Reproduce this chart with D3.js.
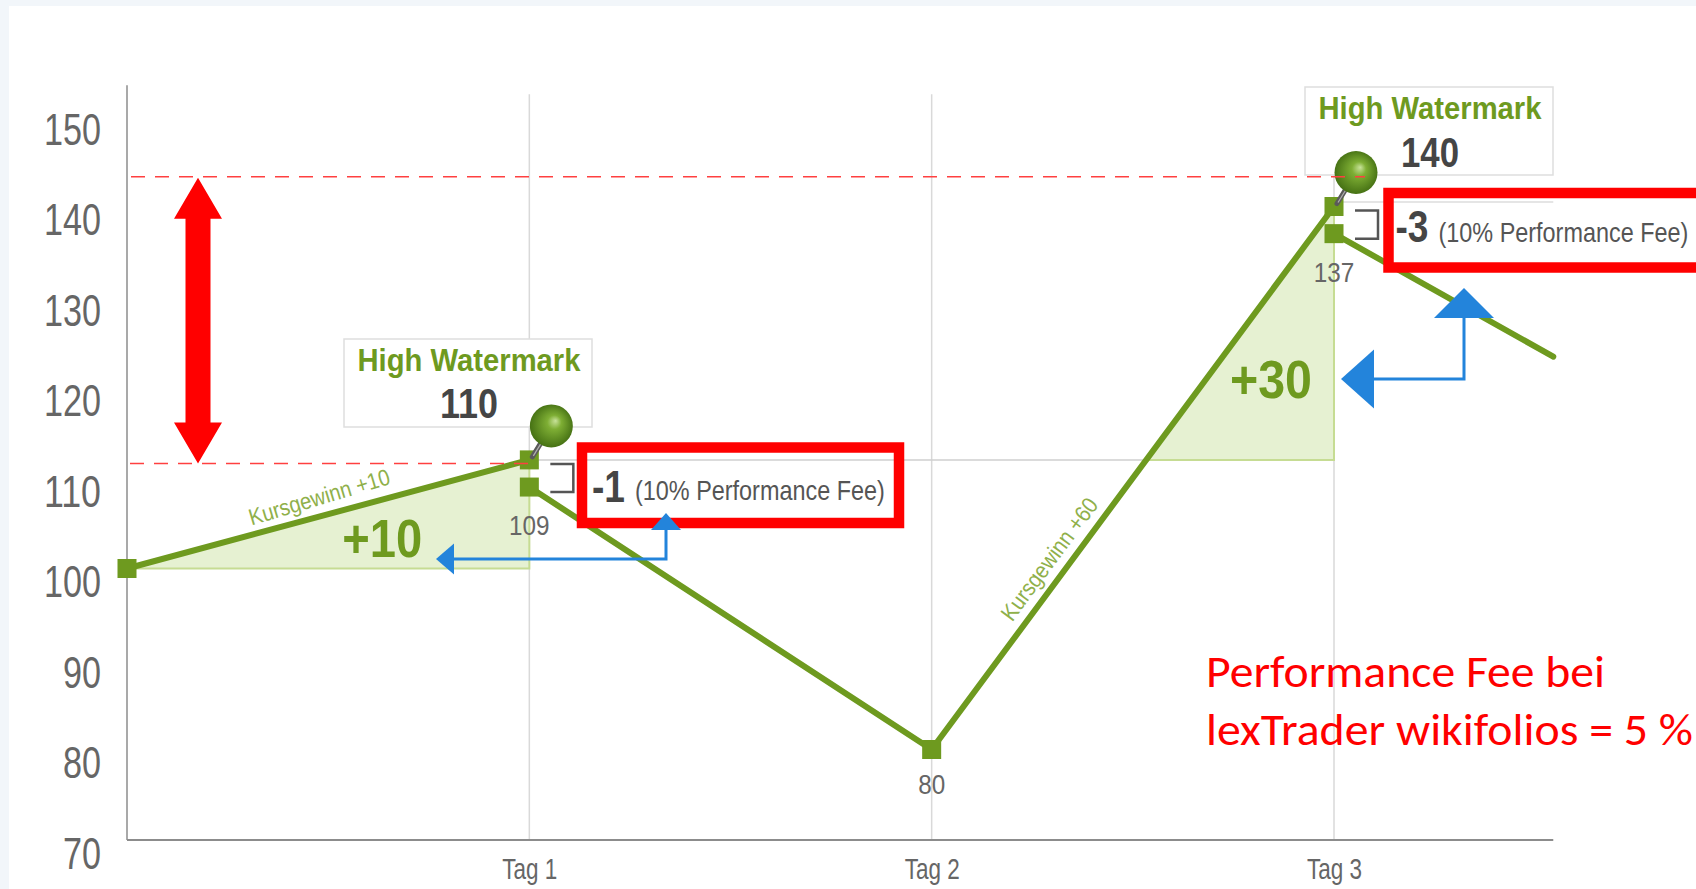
<!DOCTYPE html>
<html>
<head>
<meta charset="utf-8">
<script src="https://cdn.jsdelivr.net/npm/d3@7"></script>
<style>
  html, body { margin: 0; padding: 0; background: #f2f6fa; overflow: hidden; }
  svg { display: block; }
</style>
</head>
<body>
<svg id="chart" width="1696" height="889"></svg>
<script>
// ---- data ----
const yTicks     = [70, 80, 90, 100, 110, 120, 130, 140, 150];
const dayTicks   = [1, 2, 3];
const dayLabels  = ["Tag 1", "Tag 2", "Tag 3"];

// course of the depot value, in drawing order
const pathDays   = [0, 1, 1, 2, 3, 3, 3.545];
const pathValues = [100, 112, 109, 80, 140, 137, 123.4];
const segments   = [[0, 1], [2, 3, 4], [5, 6]];   // fee drop breaks the line

const valueLabelIdx = [2, 3, 5];
const valueLabels   = ["109", "80", "137"];

const peakIdx    = [1, 4];              // high watermarks
const hwmLabels  = ["110", "140"];
const feeIdx     = [2, 5];              // value after fee
const feeLabels  = ["-1", "-3"];
const gainLabels = ["+10", "+30"];
const gainNotes  = ["Kursgewinn +10", "Kursgewinn +60"];
const noteSeg    = [[0, 1], [3, 4]];
const noteT      = [0.49, 0.33];

const hwmLevels  = [112, 140.5];        // grey reference lines
const dashLevels = [143.3, 111.6];      // red dashed lines

const noteLines  = ["Performance Fee bei", "lexTrader wikifolios = 5 %"];

// ---- setup ----
const W = 1696, H = 889;
const FONT = "'Liberation Sans', Arial, Helvetica, sans-serif";
const GREEN = "#6e9a1f", RED = "#ff0000", BLUE = "#2384db";
// the original font is a condensed one: squeeze glyphs to the measured widths
const squeeze = (sel, len) => sel.attr("textLength", len).attr("lengthAdjust", "spacingAndGlyphs");

const svg = d3.select("#chart");
const x = d3.scaleLinear().domain([0, 3]).range([127, 1334]);
const y = d3.scaleLinear().domain([70, 150]).range([840, 116]);
const px = i => x(pathDays[i]), py = i => y(pathValues[i]);

const defs = svg.append("defs");
const ballGrad = defs.append("radialGradient").attr("id", "ball")
  .attr("cx", "50%").attr("cy", "50%").attr("r", "55%")
  .attr("fx", "60%").attr("fy", "38%");
ballGrad.append("stop").attr("offset", "0%").attr("stop-color", "#c8e29a");
ballGrad.append("stop").attr("offset", "30%").attr("stop-color", "#7eae34");
ballGrad.append("stop").attr("offset", "100%").attr("stop-color", "#3f6a10");

// white panel
svg.append("rect").attr("x", 9).attr("y", 6).attr("width", W - 9).attr("height", H - 6)
  .attr("fill", "#fff");

// vertical gridlines
svg.append("g").selectAll("line").data(dayTicks).join("line")
  .attr("x1", d => x(d)).attr("x2", d => x(d))
  .attr("y1", y(152.4)).attr("y2", y(70))
  .attr("stroke", "#d9d9d9").attr("stroke-width", 1.5);

// axes lines
svg.append("line").attr("x1", x(0)).attr("x2", x(0)).attr("y1", y(153.4)).attr("y2", y(70))
  .attr("stroke", "#8c8c8c").attr("stroke-width", 1.5);
svg.append("line").attr("x1", x(0)).attr("x2", x(3.545)).attr("y1", y(70)).attr("y2", y(70))
  .attr("stroke", "#8c8c8c").attr("stroke-width", 2);

// y tick labels
const yAxis = svg.append("g").attr("transform", "translate(101,0)")
  .call(d3.axisLeft(y).tickValues(yTicks).tickSize(0).tickPadding(0));
yAxis.select(".domain").remove();
yAxis.selectAll("text").attr("dy", null).attr("y", 28)
  .attr("font-family", FONT).attr("font-size", 44).attr("fill", "#666")
  .attr("textLength", d => String(d).length * 19).attr("lengthAdjust", "spacingAndGlyphs");

// x tick labels
const xAxis = svg.append("g").attr("transform", `translate(0,${y(70)})`)
  .call(d3.axisBottom(x).tickValues(dayTicks).tickFormat((d, i) => dayLabels[i]).tickSize(0).tickPadding(0));
xAxis.select(".domain").remove();
xAxis.selectAll("text").attr("dy", null).attr("y", 39)
  .attr("font-family", FONT).attr("font-size", 29).attr("fill", "#666")
  .attr("textLength", 55).attr("lengthAdjust", "spacingAndGlyphs");

// grey high-watermark levels
svg.append("line").attr("x1", px(1)).attr("x2", px(4)).attr("y1", y(hwmLevels[0])).attr("y2", y(hwmLevels[0]))
  .attr("stroke", "#cfcfcf").attr("stroke-width", 1.5);
svg.append("line").attr("x1", px(4)).attr("x2", x(3.545)).attr("y1", y(hwmLevels[1])).attr("y2", y(hwmLevels[1]))
  .attr("stroke", "#dcdcdc").attr("stroke-width", 1.5);

// gain triangles
const tri1 = [[px(0), py(0)], [px(1), py(1)], [px(1), py(0)]];
const t2 = (py(3) - y(hwmLevels[0])) / (py(3) - py(4));
const xc = px(3) + t2 * (px(4) - px(3));
const tri2 = [[xc, y(hwmLevels[0])], [px(4), py(4)], [px(4), y(hwmLevels[0])]];
svg.append("g").selectAll("path").data([tri1, tri2]).join("path")
  .attr("d", d => "M" + d.join("L") + "Z")
  .attr("fill", "#e6f1d2").attr("stroke", "#c6dc93").attr("stroke-width", 2);

// red double arrow
{
  const ax = 198, top = y(dashLevels[0]) + 1, bot = y(dashLevels[1]), hl = 41, hw = 24, sw = 12.5;
  svg.append("path")
    .attr("d", `M${ax},${top} L${ax + hw},${top + hl} L${ax + sw},${top + hl} L${ax + sw},${bot - hl}
      L${ax + hw},${bot - hl} L${ax},${bot} L${ax - hw},${bot - hl} L${ax - sw},${bot - hl}
      L${ax - sw},${top + hl} L${ax - hw},${top + hl} Z`)
    .attr("fill", RED);
}

// green value line
const line = d3.line().x(i => px(i)).y(i => py(i));
svg.append("g").selectAll("path").data(segments).join("path")
  .attr("d", line).attr("fill", "none").attr("stroke", GREEN)
  .attr("stroke-width", 6).attr("stroke-linejoin", "round").attr("stroke-linecap", "round");

// markers
svg.append("g").selectAll("rect").data(d3.range(pathDays.length - 1)).join("rect")
  .attr("x", i => px(i) - 9.5).attr("y", i => py(i) - 9.5)
  .attr("width", 19).attr("height", 19).attr("fill", GREEN);

// fee brackets
svg.append("g").selectAll("path").data(peakIdx).join("path")
  .attr("d", (p, k) => {
    const bx = px(p) + 21, y1 = py(p) + 4, y2 = py(feeIdx[k]) + 5;
    return `M${bx},${y1} H${bx + 23} V${y2} H${bx}`;
  })
  .attr("fill", "none").attr("stroke", "#555").attr("stroke-width", 2.5);

// high watermark boxes
const boxes = [{ x: 344, y: 339 }, { x: 1305, y: 87 }];
const hwm = svg.append("g").selectAll("g").data(boxes).join("g")
  .attr("transform", d => `translate(${d.x},${d.y})`);
hwm.append("rect").attr("width", 248).attr("height", 88)
  .attr("fill", "#fff").attr("stroke", "#dedede").attr("stroke-width", 1.5);
squeeze(hwm.append("text").attr("x", 125).attr("y", 32).attr("text-anchor", "middle")
  .attr("font-family", FONT).attr("font-weight", "bold").attr("font-size", 31)
  .attr("fill", GREEN).text("High Watermark"), 223);
squeeze(hwm.append("text").attr("x", 125).attr("y", (d, i) => i ? 80 : 79).attr("text-anchor", "middle")
  .attr("font-family", FONT).attr("font-weight", "bold").attr("font-size", 42)
  .attr("fill", "#454545").text((d, i) => hwmLabels[i]), 58);

// pins
const pins = svg.append("g").selectAll("g").data(peakIdx).join("g");
pins.append("line")
  .attr("x1", p => px(p) + 3).attr("y1", p => py(p) - 3)
  .attr("x2", p => px(p) + 22).attr("y2", p => py(p) - 34)
  .attr("stroke", "#5a5a5a").attr("stroke-width", 5).attr("stroke-linecap", "round");
pins.append("line")
  .attr("x1", p => px(p) + 4).attr("y1", p => py(p) - 4)
  .attr("x2", p => px(p) + 20).attr("y2", p => py(p) - 30)
  .attr("stroke", "#b0b0b0").attr("stroke-width", 1.2);
pins.append("circle")
  .attr("cx", p => px(p) + 22).attr("cy", p => py(p) - 34).attr("r", 21.5)
  .attr("fill", "url(#ball)");

// red dashed lines (run over the pin ball)
svg.append("line").attr("x1", 131).attr("x2", 1365).attr("y1", y(dashLevels[0])).attr("y2", y(dashLevels[0]))
  .attr("stroke", "#ff4040").attr("stroke-width", 1.5).attr("stroke-dasharray", "14 10");
svg.append("line").attr("x1", 130).attr("x2", px(1)).attr("y1", y(dashLevels[1])).attr("y2", y(dashLevels[1]))
  .attr("stroke", "#ff4040").attr("stroke-width", 1.5).attr("stroke-dasharray", "14 10");

// value labels
svg.append("g").selectAll("text").data(valueLabelIdx).join("text")
  .attr("x", i => px(i)).attr("y", (i, k) => py(i) + (k === 1 ? 44 : 48)).attr("text-anchor", "middle")
  .attr("font-family", FONT).attr("font-size", 28).attr("fill", "#666")
  .attr("textLength", (d, k) => valueLabels[k].length * 13.5).attr("lengthAdjust", "spacingAndGlyphs")
  .text((d, k) => valueLabels[k]);

// gain labels
squeeze(svg.append("text").attr("x", (px(0) + px(1)) / 2 + 54).attr("y", py(0) - 12).attr("text-anchor", "middle")
  .attr("font-family", FONT).attr("font-weight", "bold").attr("font-size", 54)
  .attr("fill", GREEN).text(gainLabels[0]), 80);
squeeze(svg.append("text").attr("x", px(4) - 63).attr("y", y(hwmLevels[0]) - 62).attr("text-anchor", "middle")
  .attr("font-family", FONT).attr("font-weight", "bold").attr("font-size", 54)
  .attr("fill", GREEN).text(gainLabels[1]), 82);

// rotated gain notes along the line
svg.append("g").selectAll("text").data(noteSeg).join("text")
  .attr("transform", (s, k) => {
    const [a, b] = s, t = noteT[k];
    const dx = px(b) - px(a), dy = py(b) - py(a), len = Math.hypot(dx, dy);
    const ang = Math.atan2(dy, dx) * 180 / Math.PI - (k ? 0 : 1.5);
    const cx = px(a) + t * dx + 19 * dy / len, cy = py(a) + t * dy - 19 * dx / len;
    return `translate(${cx},${cy}) rotate(${ang})`;
  })
  .attr("text-anchor", "middle").attr("dy", "0.35em")
  .attr("font-family", FONT).attr("font-size", 23).attr("fill", "#8fb04a")
  .attr("textLength", 146).attr("lengthAdjust", "spacingAndGlyphs")
  .text((d, k) => gainNotes[k]);

// red fee boxes
const feeBoxes = [{ x: 582, y: 447.5, w: 317, h: 75.5 }, { x: 1388.5, y: 193, w: 340, h: 74.5 }];
svg.append("g").selectAll("rect").data(feeBoxes).join("rect")
  .attr("x", d => d.x).attr("y", d => d.y).attr("width", d => d.w).attr("height", d => d.h)
  .attr("fill", "none").attr("stroke", RED).attr("stroke-width", 10.5);

const fees = svg.append("g").selectAll("g").data(feeBoxes).join("g")
  .attr("transform", d => `translate(${d.x},${d.y})`);
squeeze(fees.append("text").attr("x", (d, i) => i ? 7 : 10).attr("y", (d, i) => i ? 49 : 54)
  .attr("font-family", FONT).attr("font-weight", "bold").attr("font-size", 44)
  .attr("fill", "#454545").text((d, i) => feeLabels[i]), 33);
// condensed via a horizontal scale so the text box keeps its real width
fees.append("text")
  .attr("font-family", FONT).attr("font-size", 28).attr("fill", "#555")
  .text("(10% Performance Fee)")
  .attr("transform", function (d, i) {
    const s = 250 / this.getComputedTextLength();
    return `translate(${i ? 50 : 53},${i ? 49 : 52}) scale(${s},1)`;
  });

// blue arrows
const arrows = [
  { vx: 666, tipY: 513, hy: 559, tipX: 436, hw: 15, hl: 17, lw: 31, ll: 18, sw: 3 },
  { vx: 1464, tipY: 288, hy: 379, tipX: 1341, hw: 30, hl: 30, lw: 59, ll: 33, sw: 3 }
];
const ar = svg.append("g").selectAll("g").data(arrows).join("g");
ar.append("path")
  .attr("d", d => `M${d.vx},${d.tipY + d.hl - 1} V${d.hy} H${d.tipX + d.ll - 1}`)
  .attr("fill", "none").attr("stroke", BLUE).attr("stroke-width", d => d.sw);
ar.append("path")
  .attr("d", d => `M${d.vx},${d.tipY} L${d.vx + d.hw},${d.tipY + d.hl} L${d.vx - d.hw},${d.tipY + d.hl} Z`)
  .attr("fill", BLUE);
ar.append("path")
  .attr("d", d => `M${d.tipX},${d.hy} L${d.tipX + d.ll},${d.hy - d.lw / 2} L${d.tipX + d.ll},${d.hy + d.lw / 2} Z`)
  .attr("fill", BLUE);

// red note
svg.append("g").selectAll("text").data(noteLines).join("text")
  .attr("x", 1206).attr("y", (d, i) => 687 + i * 58)
  .attr("font-family", "Carlito, Lato, 'Open Sans', sans-serif").attr("font-size", 45)
  .attr("textLength", (d, i) => i ? 487 : 399).attr("lengthAdjust", "spacingAndGlyphs")
  .attr("fill", RED).text(d => d);
</script>
</body>
</html>
